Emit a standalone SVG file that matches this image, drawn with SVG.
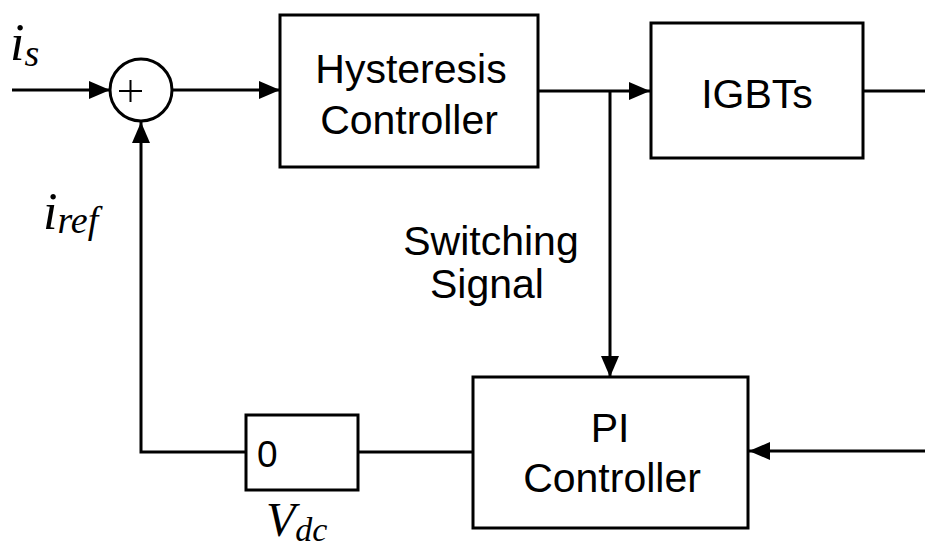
<svg xmlns="http://www.w3.org/2000/svg" width="925" height="550" viewBox="0 0 925 550">
<defs>
<marker id="arr" markerUnits="userSpaceOnUse" markerWidth="22" markerHeight="18" refX="21" refY="9" orient="auto">
<path d="M0,0 L21,9 L0,18 Z" fill="#000"/>
</marker>
<style>
.box{fill:#fff;stroke:#000;stroke-width:3}
.ln{fill:none;stroke:#000;stroke-width:3}
.t{font-family:"Liberation Sans",Arial,sans-serif;font-size:41px;fill:#000;text-anchor:middle}
.m{font-family:"Liberation Serif","Times New Roman",serif;font-style:italic;fill:#000}
</style>
</defs>
<rect width="925" height="550" fill="#fff"/>
<g id="connectors">
<path class="ln" d="M12,90 H110" marker-end="url(#arr)"/>
<path class="ln" d="M172,90 H280" marker-end="url(#arr)"/>
<path class="ln" d="M538,91 H650" marker-end="url(#arr)"/>
<path class="ln" d="M610,91 V377" marker-end="url(#arr)"/>
<path class="ln" d="M863,91 H925"/>
<path class="ln" d="M925,451 H749" marker-end="url(#arr)"/>
<path class="ln" d="M473,452 H358"/>
<path class="ln" d="M246,452 H141 V122" marker-end="url(#arr)"/>
</g>
<g id="sum">
<circle cx="141" cy="90" r="31" fill="#fff" stroke="#000" stroke-width="3"/>
<path d="M119,91 H142 M130.5,80 V102" stroke="#000" stroke-width="2" fill="none"/>
</g>
<g id="hysteresis">
<rect class="box" x="280" y="15" width="258" height="152"/>
<text class="t" x="411" y="83">Hysteresis</text>
<text class="t" x="409" y="134">Controller</text>
</g>
<g id="igbts">
<rect class="box" x="651" y="23" width="212" height="135"/>
<text class="t" x="757" y="108">IGBTs</text>
</g>
<g id="pi">
<rect class="box" x="473" y="377" width="275" height="151"/>
<text class="t" x="610" y="442">PI</text>
<text class="t" x="612" y="492">Controller</text>
</g>
<g id="vdc">
<rect class="box" x="246" y="415" width="112" height="75"/>
<text x="257" y="467" style="font-family:'Liberation Sans',Arial,sans-serif;font-size:37px">0</text>
</g>
<g id="labels">
<text class="t" x="491" y="255">Switching</text>
<text class="t" x="487" y="298">Signal</text>
<text class="m" x="10" y="60" font-size="52">i<tspan font-size="38" dy="6">s</tspan></text>
<text class="m" x="43" y="229" font-size="52">i<tspan font-size="38" dy="4">ref</tspan></text>
<text class="m" x="266" y="536" font-size="48">V<tspan font-size="34" dy="5">dc</tspan></text>
</g>
</svg>
